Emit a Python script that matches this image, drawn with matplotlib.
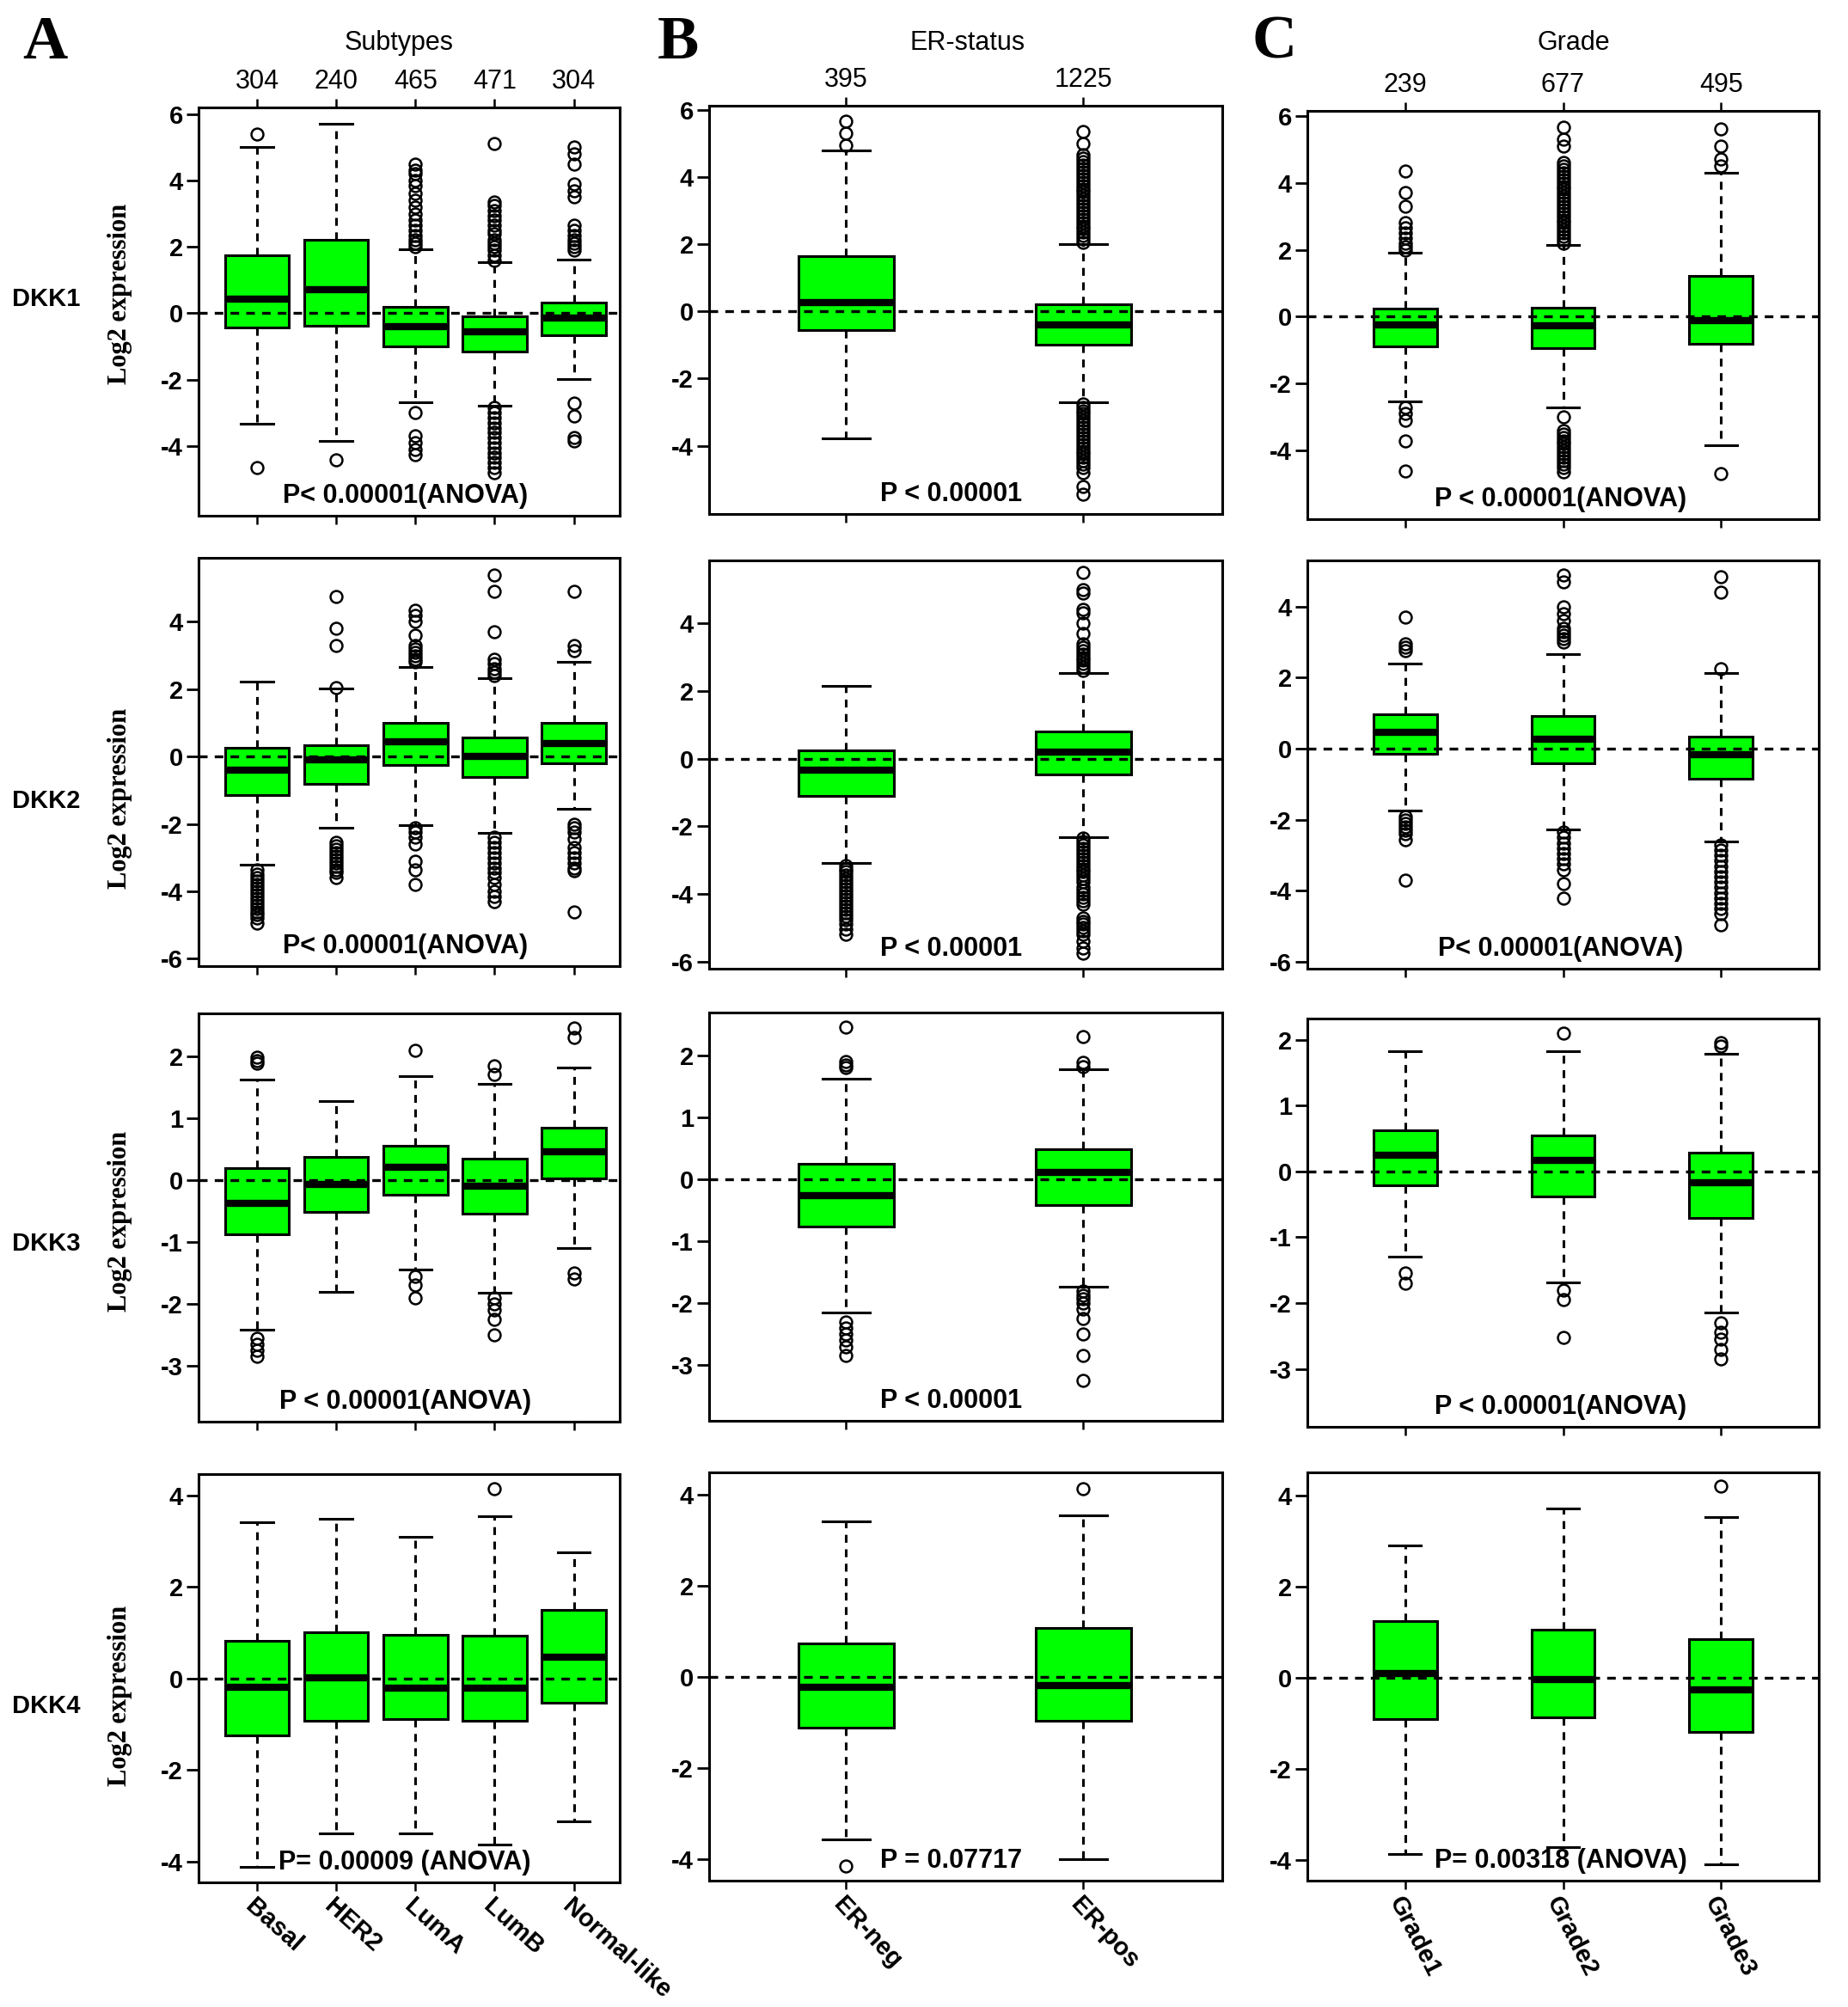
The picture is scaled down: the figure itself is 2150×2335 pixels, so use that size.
import matplotlib
matplotlib.use('Agg')
import matplotlib.pyplot as plt

plt.rcParams['font.family'] = ['Liberation Sans', 'DejaVu Sans']

# groups and sample counts
subtypes = ['Basal', 'HER2', 'LumA', 'LumB', 'Normal-like']
subtype_n = ['304', '240', '465', '471', '304']
er_groups = ['ER-neg', 'ER-pos']
er_n = ['395', '1225']
grades = ['Grade1', 'Grade2', 'Grade3']
grade_n = ['239', '677', '495']
genes = ['DKK1', 'DKK2', 'DKK3', 'DKK4']

# box summaries: (whisker low, q1, median, q3, whisker high)
dkk1_subtypes = [(-3.34, -0.42, 0.42, 1.75, 5.0), (-3.84, -0.39, 0.70, 2.22, 5.72),
                 (-2.68, -1.0, -0.40, 0.18, 1.92), (-2.78, -1.15, -0.55, -0.08, 1.53),
                 (-1.97, -0.65, -0.15, 0.33, 1.62)]
dkk1_subtypes_out = [[5.4, -4.65], [-4.42],
                     [2.0, 2.1, 2.2, 2.35, 2.5, 2.65, 2.8, 3.0, 3.2, 3.4, 3.6, 3.85, 4.0, 4.2, 4.3, 4.5,
                      -3.0, -3.7, -3.9, -4.1, -4.25],
                     [1.6, 1.75, 1.9, 2.0, 2.1, 2.2, 2.4, 2.5, 2.65, 2.8, 2.95, 3.1, 3.25, 3.35, 5.1,
                      -2.85, -3.0, -3.15, -3.3, -3.45, -3.6, -3.75, -3.9, -4.05, -4.2, -4.35, -4.5, -4.65, -4.8],
                     [1.9, 2.0, 2.1, 2.2, 2.35, 2.5, 2.65, 3.5, 3.7, 3.9, 4.5, 4.8, 5.0, -2.7, -3.1, -3.75, -3.85]]
dkk1_er = [(-3.78, -0.56, 0.25, 1.65, 4.8), (-2.7, -0.98, -0.39, 0.22, 2.0)]
dkk1_er_out = [[4.95, 5.3, 5.65],
               [2.05, 2.15, 2.25, 2.35, 2.45, 2.55, 2.65, 2.75, 2.85, 2.95, 3.05, 3.15, 3.25, 3.35, 3.45,
                3.55, 3.65, 3.75, 3.85, 3.95, 4.05, 4.15, 4.25, 4.35, 4.45, 4.55, 4.65, 5.0, 5.35,
                -2.75, -2.85, -2.95, -3.05, -3.15, -3.25, -3.35, -3.45, -3.55, -3.65, -3.75, -3.85,
                -3.95, -4.05, -4.15, -4.25, -4.35, -4.45, -4.55, -4.65, -4.8, -5.2, -5.45]]
dkk1_grade = [(-2.53, -0.88, -0.25, 0.24, 1.9), (-2.72, -0.93, -0.27, 0.28, 2.15),
              (-3.85, -0.80, -0.12, 1.22, 4.3)]
dkk1_grade_out = [[2.0, 2.1, 2.2, 2.35, 2.5, 2.65, 2.8, 3.3, 3.7, 4.35, -2.7, -2.9, -3.1, -3.7, -4.6],
                  [2.2, 2.3, 2.4, 2.5, 2.6, 2.7, 2.8, 2.9, 3.0, 3.1, 3.2, 3.3, 3.4, 3.5, 3.6, 3.7, 3.8,
                   3.9, 4.0, 4.1, 4.2, 4.3, 4.4, 4.5, 4.6, 5.1, 5.3, 5.65,
                   -3.0, -3.4, -3.5, -3.6, -3.7, -3.8, -3.9, -4.0, -4.1, -4.2, -4.3, -4.4, -4.5, -4.65],
                  [4.5, 4.7, 5.1, 5.6, -4.7]]

dkk2_subtypes = [(-3.2, -1.15, -0.40, 0.27, 2.23), (-2.11, -0.81, -0.10, 0.34, 2.02),
                 (-2.03, -0.26, 0.45, 1.0, 2.67), (-2.26, -0.61, 0.0, 0.57, 2.32),
                 (-1.56, -0.20, 0.40, 1.0, 2.81)]
dkk2_subtypes_out = [[-3.35, -3.5, -3.6, -3.7, -3.8, -3.9, -4.0, -4.1, -4.2, -4.3, -4.4, -4.5, -4.6,
                      -4.7, -4.8, -4.95],
                     [2.05, 3.3, 3.8, 4.75, -2.55, -2.65, -2.75, -2.85, -2.95, -3.05, -3.15, -3.25,
                      -3.35, -3.45, -3.6],
                     [2.8, 2.9, 3.0, 3.1, 3.2, 3.3, 3.6, 4.0, 4.2, 4.35,
                      -2.1, -2.25, -2.4, -2.6, -3.1, -3.35, -3.8],
                     [2.4, 2.5, 2.6, 2.75, 2.9, 3.7, 4.9, 5.4, -2.4, -2.55, -2.7, -2.85, -3.0, -3.15,
                      -3.3, -3.45, -3.6, -3.8, -4.0, -4.15, -4.3],
                     [3.15, 3.3, 4.9, -2.0, -2.1, -2.25, -2.45, -2.7, -2.85, -3.0, -3.15, -3.3, -3.4, -4.6]]
dkk2_er = [(-3.08, -1.10, -0.34, 0.25, 2.15), (-2.31, -0.47, 0.20, 0.80, 2.53)]
dkk2_er_out = [[-3.15, -3.25, -3.35, -3.45, -3.55, -3.65, -3.75, -3.85, -3.95, -4.05, -4.15, -4.25,
                -4.35, -4.45, -4.55, -4.65, -4.75, -4.9, -5.05, -5.2],
               [2.6, 2.7, 2.8, 2.9, 3.0, 3.1, 3.2, 3.3, 3.4, 3.7, 4.0, 4.3, 4.4, 4.9, 5.0, 5.5,
                -2.35, -2.45, -2.55, -2.65, -2.75, -2.85, -2.95, -3.05, -3.15, -3.25, -3.35, -3.45,
                -3.55, -3.65, -3.8, -3.9, -4.0, -4.1, -4.2, -4.3, -4.7, -4.8, -4.9, -5.0, -5.1, -5.2,
                -5.4, -5.6, -5.75]]
dkk2_grade = [(-1.75, -0.14, 0.47, 0.98, 2.4), (-2.27, -0.40, 0.27, 0.93, 2.66),
              (-2.61, -0.85, -0.16, 0.35, 2.12)]
dkk2_grade_out = [[2.75, 2.85, 2.95, 3.7, -1.9, -2.0, -2.1, -2.2, -2.3, -2.4, -2.55, -3.7],
                  [3.0, 3.1, 3.2, 3.3, 3.4, 3.6, 3.8, 4.0, 4.7, 4.9, -2.35, -2.5, -2.65, -2.8, -2.95,
                   -3.1, -3.25, -3.4, -3.8, -4.2],
                  [2.25, 4.4, 4.85, -2.7, -2.85, -3.0, -3.15, -3.3, -3.45, -3.6, -3.75, -3.9, -4.05,
                   -4.2, -4.35, -4.5, -4.65, -4.95]]

dkk3_subtypes = [(-2.41, -0.87, -0.37, 0.19, 1.62), (-1.81, -0.52, -0.07, 0.38, 1.27),
                 (-1.44, -0.24, 0.20, 0.56, 1.68), (-1.82, -0.54, -0.10, 0.34, 1.55),
                 (-1.10, 0.03, 0.45, 0.85, 1.82)]
dkk3_subtypes_out = [[1.88, 1.93, 1.98, -2.55, -2.65, -2.75, -2.85], [],
                     [2.1, -1.55, -1.7, -1.9], [1.7, 1.85, -1.9, -2.0, -2.1, -2.25, -2.5],
                     [2.3, 2.45, -1.5, -1.6]]
dkk3_er = [(-2.15, -0.76, -0.26, 0.25, 1.62), (-1.74, -0.42, 0.11, 0.48, 1.77)]
dkk3_er_out = [[1.8, 1.85, 1.9, 2.45, -2.3, -2.4, -2.5, -2.6, -2.7, -2.85],
               [1.82, 1.88, 2.3, -1.8, -1.87, -1.93, -2.0, -2.1, -2.25, -2.5, -2.85, -3.25]]
dkk3_grade = [(-1.30, -0.21, 0.25, 0.62, 1.83), (-1.69, -0.38, 0.16, 0.54, 1.82),
              (-2.15, -0.71, -0.17, 0.29, 1.78)]
dkk3_grade_out = [[-1.55, -1.7], [2.1, -1.8, -1.95, -2.52],
                  [1.9, 1.95, -2.3, -2.45, -2.55, -2.7, -2.85]]

dkk4_subtypes = [(-4.11, -1.24, -0.20, 0.82, 3.41), (-3.38, -0.92, 0.02, 1.01, 3.49),
                 (-3.38, -0.88, -0.21, 0.95, 3.09), (-3.63, -0.92, -0.21, 0.93, 3.55),
                 (-3.11, -0.53, 0.46, 1.49, 2.75)]
dkk4_subtypes_out = [[], [], [], [4.15], []]
dkk4_er = [(-3.58, -1.11, -0.23, 0.74, 3.43), (-4.0, -0.96, -0.19, 1.08, 3.56)]
dkk4_er_out = [[-4.15], [4.15]]
dkk4_grade = [(-3.87, -0.92, 0.08, 1.23, 2.9), (-3.72, -0.88, -0.05, 1.04, 3.7),
              (-4.10, -1.19, -0.28, 0.84, 3.51)]
dkk4_grade_out = [[], [], [4.2]]

p_values = [['P< 0.00001(ANOVA)', 'P < 0.00001', 'P < 0.00001(ANOVA)'],
            ['P< 0.00001(ANOVA)', 'P < 0.00001', 'P< 0.00001(ANOVA)'],
            ['P < 0.00001(ANOVA)', 'P < 0.00001', 'P < 0.00001(ANOVA)'],
            ['P= 0.00009 (ANOVA)', 'P = 0.07717', 'P= 0.00318 (ANOVA)']]

panel_data = [
    [(dkk1_subtypes, dkk1_subtypes_out), (dkk1_er, dkk1_er_out), (dkk1_grade, dkk1_grade_out)],
    [(dkk2_subtypes, dkk2_subtypes_out), (dkk2_er, dkk2_er_out), (dkk2_grade, dkk2_grade_out)],
    [(dkk3_subtypes, dkk3_subtypes_out), (dkk3_er, dkk3_er_out), (dkk3_grade, dkk3_grade_out)],
    [(dkk4_subtypes, dkk4_subtypes_out), (dkk4_er, dkk4_er_out), (dkk4_grade, dkk4_grade_out)],
]

# ---- layout (pixels of the 2150x2335 canvas) ----
W, H = 2150, 2335
col_x = [(231, 721), (825, 1422), (1521, 2116)]
col_tops = [[125, 649, 1179, 1715], [123, 652, 1178, 1713], [129, 652, 1185, 1713]]
row_h = 475
col_names = [subtypes, er_groups, grades]
col_counts = [subtype_n, er_n, grade_n]
col_xlim = [(0.262, 5.58), (0.423, 2.585), (0.38, 3.62)]
col_width = [0.81, 0.40, 0.40]
col_rot = [-42, -47, -63]
col_ptext_x = [0.49, 0.472, 0.495]
row_ylims = [[(-6.1, 6.2), (-6.03, 6.12), (-6.05, 6.15)],
             [(-6.22, 5.9), (-6.21, 5.86), (-6.19, 5.3)],
             [(-3.9, 2.69), (-3.9, 2.69), (-3.88, 2.32)],
             [(-4.45, 4.46), (-4.48, 4.5), (-4.46, 4.5)]]
row_yticks = [[-4, -2, 0, 2, 4, 6], [-6, -4, -2, 0, 2, 4], [-3, -2, -1, 0, 1, 2], [-4, -2, 0, 2, 4]]
gene_y = [348, 932, 1447, 1985]
ylab_y = [342, 929, 1421, 1973]

GREEN = '#00ff00'

fig = plt.figure(figsize=(W / 100, H / 100), dpi=100)
fig.patch.set_facecolor('white')


def draw_panel(ax, summary, outliers, names, width):
    stats = []
    for s, o, n in zip(summary, outliers, names):
        stats.append(dict(whislo=s[0], q1=s[1], med=s[2], q3=s[3], whishi=s[4], fliers=o, label=n))
    pos = list(range(1, len(stats) + 1))
    ax.bxp(stats, positions=pos, widths=width, capwidths=width / 2, patch_artist=True,
           boxprops=dict(facecolor=GREEN, edgecolor='black', linewidth=2.2),
           whiskerprops=dict(color='black', linewidth=2.2, linestyle=(0, (3, 2.5))),
           capprops=dict(color='black', linewidth=2.2),
           medianprops=dict(color='black', linewidth=6, solid_capstyle='butt', zorder=4),
           flierprops=dict(marker='o', markersize=10, markerfacecolor='none',
                           markeredgecolor='black', markeredgewidth=1.8, zorder=3))
    ax.axhline(0, color='black', linewidth=2.4, linestyle=(0, (3, 2.5)), zorder=3)
    return pos


for r in range(4):
    for c in range(3):
        x0, x1 = col_x[c]
        top = col_tops[c][r]
        ax = fig.add_axes([x0 / W, 1 - (top + row_h) / H, (x1 - x0) / W, row_h / H])
        summary, outliers = panel_data[r][c]
        pos = draw_panel(ax, summary, outliers, col_names[c], col_width[c])

        ax.set_xlim(*col_xlim[c])
        ax.set_ylim(*row_ylims[r][c])
        ax.set_yticks(row_yticks[r])
        ax.set_yticklabels([str(t) for t in row_yticks[r]], fontsize=21, fontweight='bold')
        ax.tick_params(axis='y', direction='out', length=10, width=2, pad=3)
        ax.set_xticks(pos)
        for sp in ax.spines.values():
            sp.set_linewidth(2.2)

        if r == 0:
            ax.set_xticklabels(col_counts[c], fontsize=22)
            ax.tick_params(axis='x', direction='out', length=7, width=1.8, top=True,
                           labeltop=True, bottom=True, labelbottom=False, pad=4)
        elif r == 3:
            ax.set_xticklabels(col_names[c], fontsize=21, fontweight='bold',
                               rotation=col_rot[c], ha='left', va='top', rotation_mode='anchor')
            ax.tick_params(axis='x', direction='out', length=7, width=1.8, pad=3)
        else:
            ax.set_xticklabels([''] * len(pos))
            ax.tick_params(axis='x', direction='out', length=7, width=1.8)

        ax.text(col_ptext_x[c], 0.048, p_values[r][c], transform=ax.transAxes, ha='center',
                va='center', fontsize=22, fontweight='bold', zorder=5)

# row labels
for r in range(4):
    fig.text(54 / W, 1 - gene_y[r] / H, genes[r], ha='center', va='center',
             fontsize=21, fontweight='bold')
    fig.text(140 / W, 1 - ylab_y[r] / H, 'Log2 expression', rotation=90, ha='center',
             va='center', fontsize=22, fontweight='bold', family='Liberation Serif')

# column headers and panel letters
headers = ['Subtypes', 'ER-status', 'Grade']
header_x = [464, 1126, 1831]
letters = ['A', 'B', 'C']
letter_x = [52, 789, 1483]
for c in range(3):
    fig.text(header_x[c] / W, 1 - 50 / H, headers[c], ha='center', va='center', fontsize=22)
    fig.text(letter_x[c] / W, 1 - 50 / H, letters[c], ha='center', va='center',
             fontsize=52, fontweight='bold', family='Liberation Serif')

fig.savefig('out.png', dpi=100, facecolor='white')
